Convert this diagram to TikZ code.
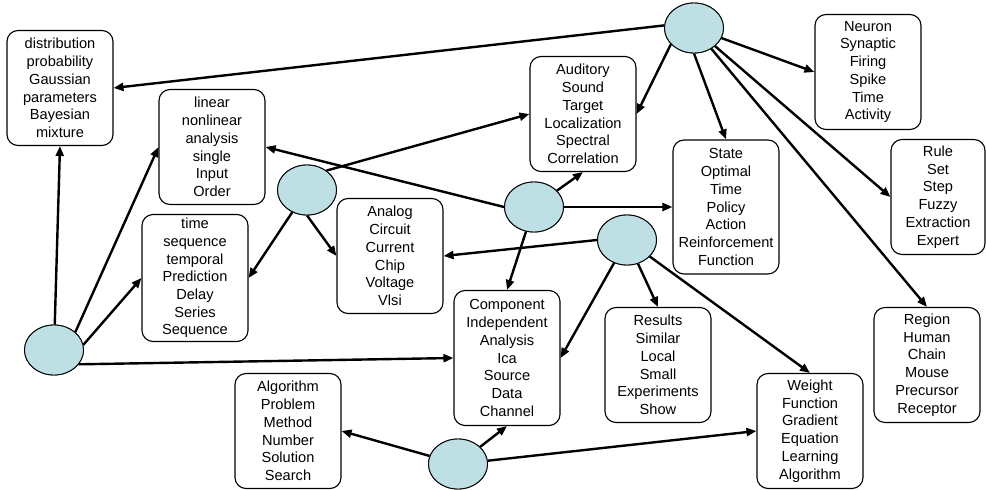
\documentclass[tikz,border=0pt]{standalone}
\usepackage{fontspec}
\setmainfont{Liberation Sans}
\usepackage{tikz}
\usetikzlibrary{shapes.geometric,arrows.meta}
\definecolor{topicfill}{RGB}{190,224,228}

\begin{document}
\begin{tikzpicture}[x=1pt, y=-1pt, line width=2.4pt,
    >={Triangle[length=10pt,width=8pt]},
    words/.style={draw, line width=1.1pt, rounded corners=11pt, inner sep=0pt,
      minimum width=106pt, minimum height=115pt, align=center,
      font=\fontsize{14.6}{17.7}\selectfont},
    topic/.style={draw, ellipse, line width=0.9pt, fill=topicfill, inner sep=0pt,
      minimum width=59pt, minimum height=50pt}]
        \useasboundingbox (0,0) rectangle (986,490);

        \node[words](dist)    at ( 60,  88) {distribution\\probability\\Gaussian\\parameters\\Bayesian\\mixture};
        \node[words](linear)  at (212, 147) {linear\\nonlinear\\analysis\\single\\Input\\Order};
        \node[words, minimum height=127pt](time) at (195, 278) {time\\sequence\\temporal\\Prediction\\Delay\\Series\\Sequence};
        \node[words](analog)  at (390, 256) {Analog\\Circuit\\Current\\Chip\\Voltage\\Vlsi};
        \node[words](aud)     at (583, 114) {Auditory\\Sound\\Target\\Localization\\Spectral\\Correlation};
        \node[words, minimum height=134pt](state) at (726, 207) {State\\Optimal\\Time\\Policy\\Action\\Reinforcement\\Function};
        \node[words](neuron)  at (868,  72) {Neuron\\Synaptic\\Firing\\Spike\\Time\\Activity};
        \node[words, minimum width=94pt](rule) at (938, 197) {Rule\\Set\\Step\\Fuzzy\\Extraction\\Expert};
        \node[words, minimum height=135pt](comp) at (507, 358) {Component\\Independent\\Analysis\\Ica\\Source\\Data\\Channel};
        \node[words](results) at (658, 365) {Results\\Similar\\Local\\Small\\Experiments\\Show};
        \node[words](algo)    at (288, 431) {Algorithm\\Problem\\Method\\Number\\Solution\\Search};
        \node[words](weight)  at (810, 431) {Weight\\Function\\Gradient\\Equation\\Learning\\Algorithm};
        \node[words](region)  at (927, 365) {Region\\Human\\Chain\\Mouse\\Precursor\\Receptor};

        \node[topic](e1) at (694,  28) {};
        \node[topic](e2) at (307, 190) {};
        \node[topic](e3) at (534, 207) {};
        \node[topic](e4) at (627, 240) {};
        \node[topic](e5) at ( 54, 350) {};
        \node[topic](e6) at (458, 464) {};

          \path[->] (e1.175) edge (dist.east)
                    (e1.215) edge (aud.east)
                    (e1.south) edge (state.north)
                    (e1) edge (neuron.west)
                    (e1) edge (rule.west)
                    (e1) edge (region.north);

          \path[->] (e2.45) edge (aud.west)
                    (e2) edge (time.east)
                    (e2.south) edge (analog.west);

          \path[->] (e3.west) edge (linear.east)
                    (e3) edge (aud.south)
                    (e3.east) edge (state.west)
                    (e3) edge (comp.north);

          \path[->] (e4.west) edge (analog.east)
                    (e4) edge (comp.east)
                    (e4) edge (results.north)
                    (e4) edge (weight.north);

          \path[->] (e5) edge (dist.south)
                    (e5.40) edge (linear.west)
                    (e5.10) edge (time.west)
                    (e5.-30) edge (comp.west);

          \path[->] (e6) edge (algo.east)
                    (e6) edge (comp.south)
                    (e6) edge (weight.west);

        % redraw the topics over the line ends
        \foreach \t in {e1,e2,e3,e4,e5,e6}
          \node[topic] at (\t) {};

      \end{tikzpicture}
\end{document}
